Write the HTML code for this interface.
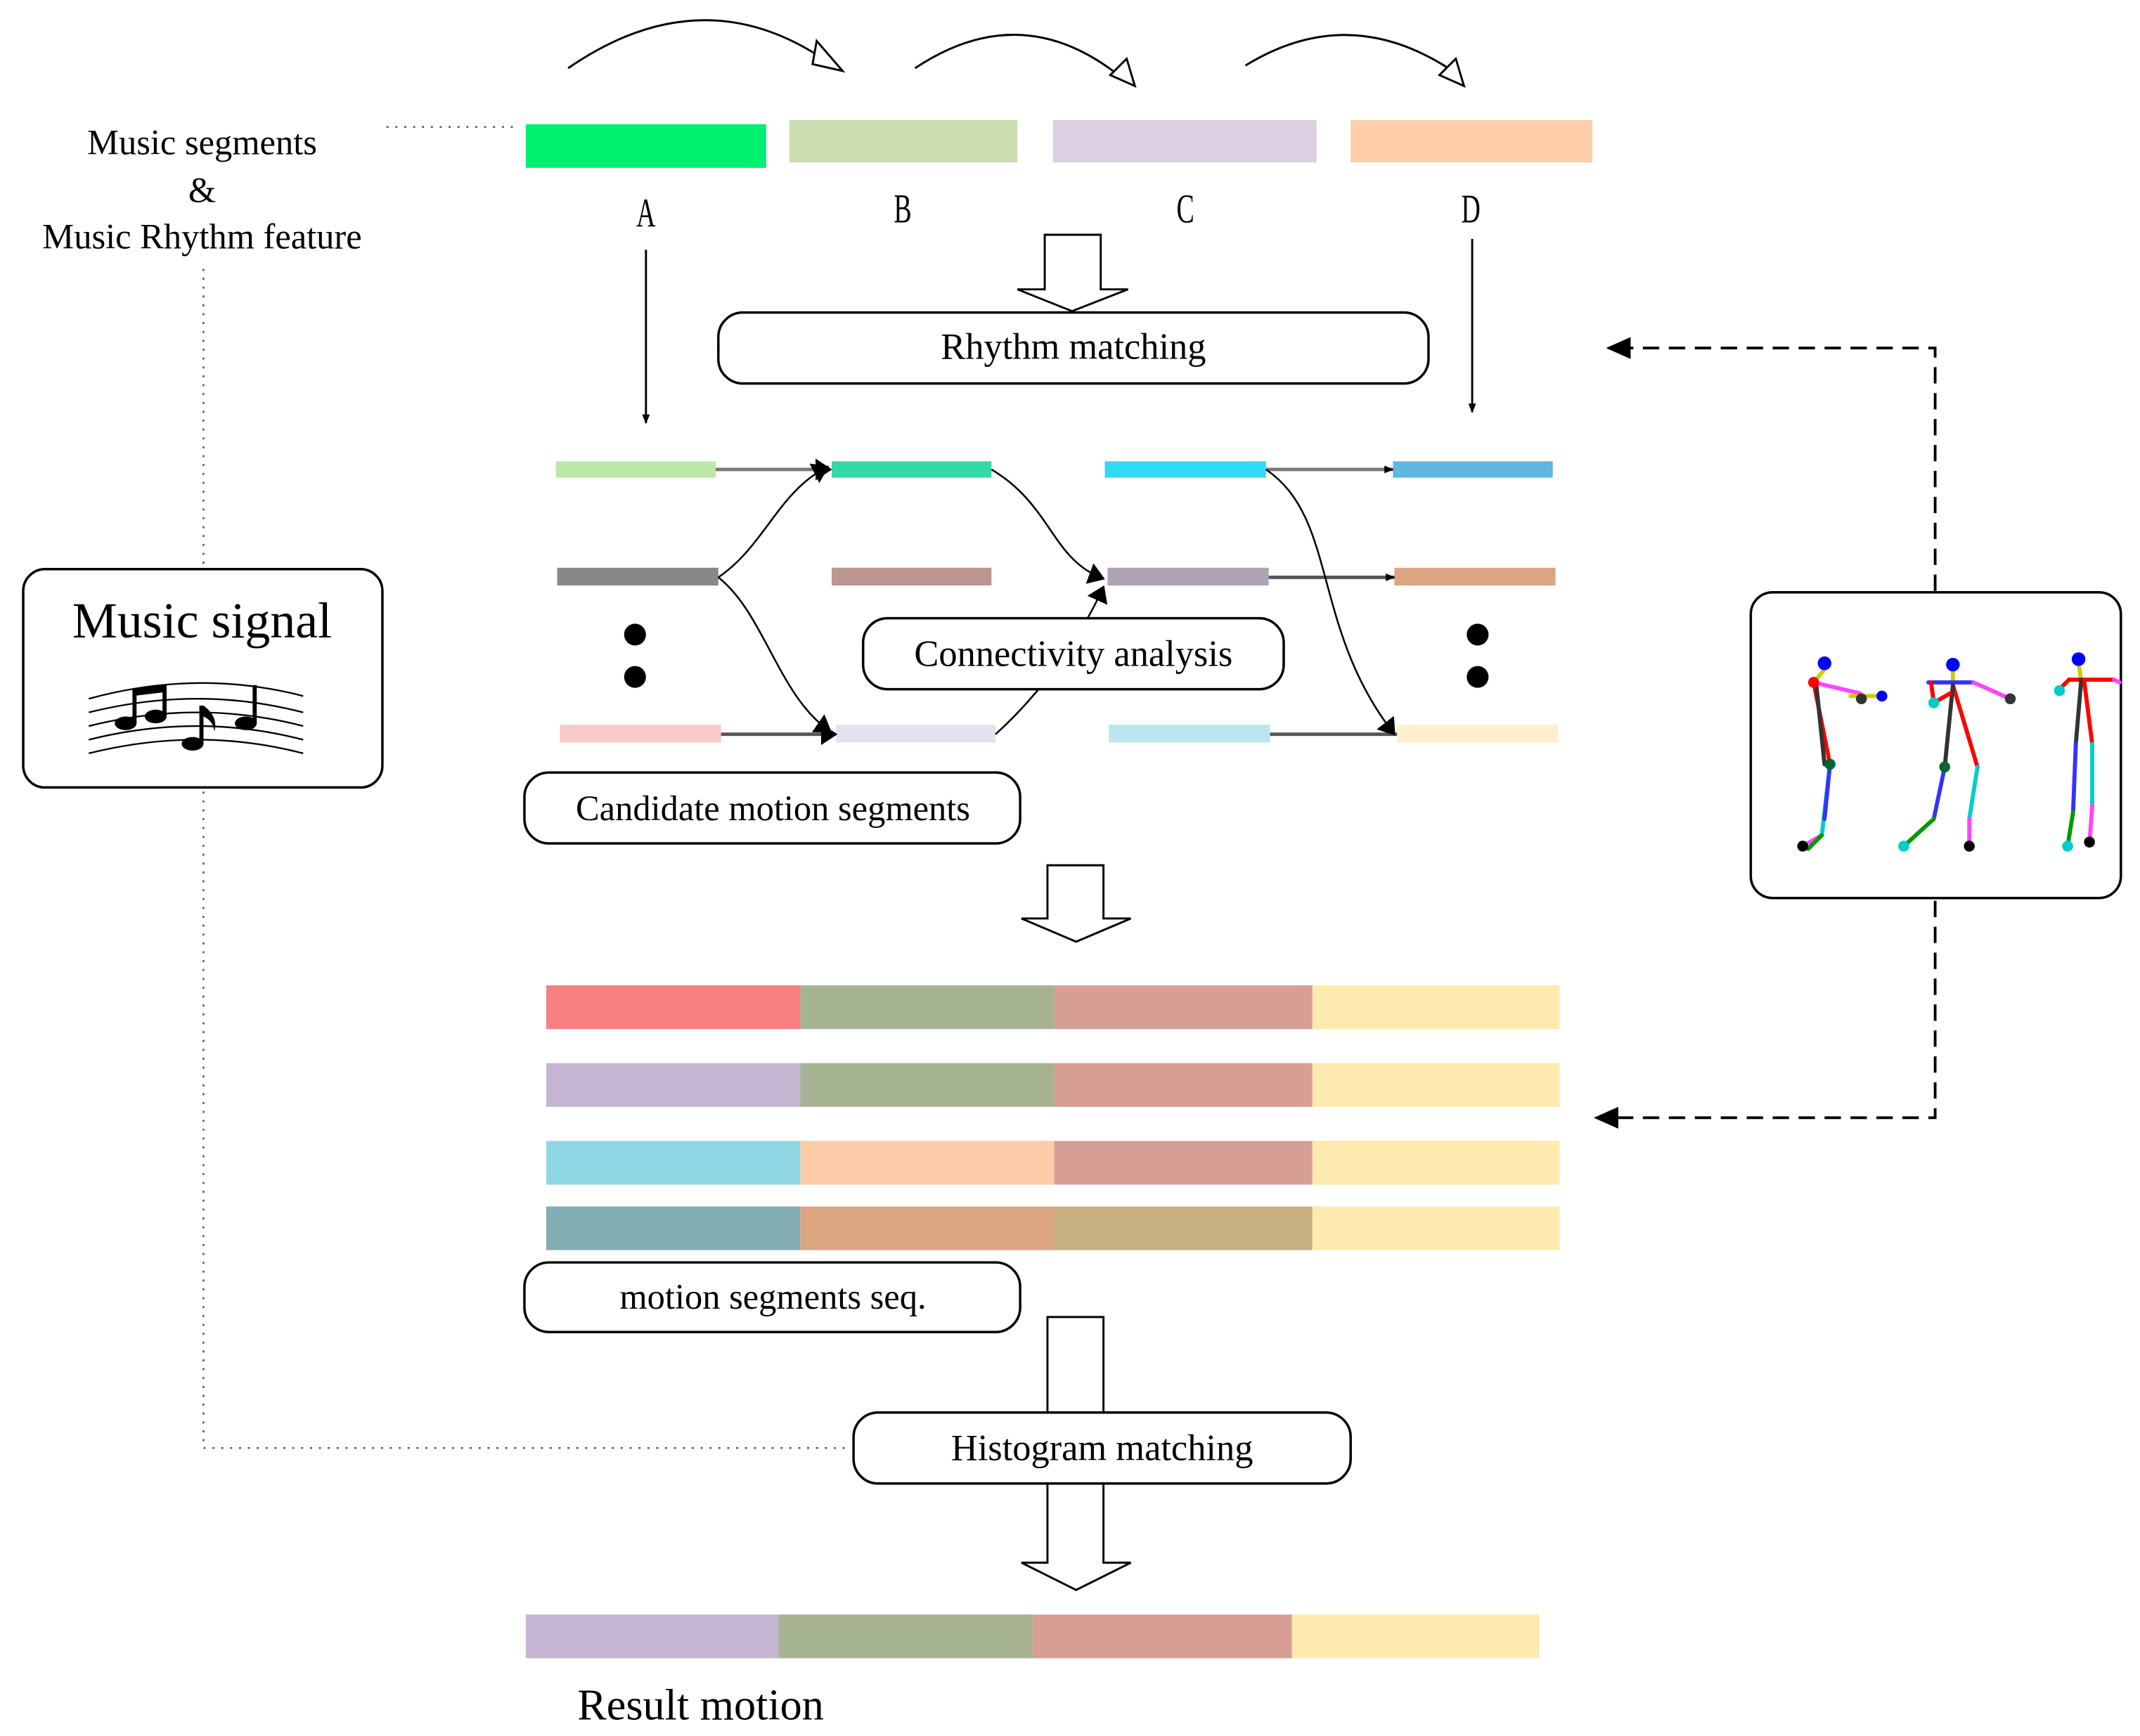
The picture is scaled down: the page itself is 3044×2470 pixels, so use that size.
<!DOCTYPE html>
<html><head><meta charset="utf-8"><style>
html,body{margin:0;padding:0;background:#fff;}
svg{display:block;}
text{font-family:"Liberation Serif",serif;fill:#000;}
</style></head><body>
<svg width="3044" height="2470" viewBox="0 0 1567 1272" preserveAspectRatio="none" xmlns="http://www.w3.org/2000/svg">
<defs>
<marker id="ah" viewBox="0 0 10 10" refX="9" refY="5" markerWidth="7" markerHeight="7" orient="auto-start-reverse" markerUnits="userSpaceOnUse"><path d="M0,1 L10,5 L0,9 z" fill="#000"/></marker>
<marker id="ab" viewBox="0 0 10 10" refX="9" refY="5" markerWidth="12" markerHeight="16" orient="auto" markerUnits="userSpaceOnUse" preserveAspectRatio="none"><path d="M0,0 L10,5 L0,10 z" fill="#000"/></marker>
</defs>

<g fill="none" stroke="#000" stroke-width="1.5">
<path d="M416,50 Q510,-15 598,40"/>
<path d="M670,50 Q745,0 815,52"/>
<path d="M912,48 Q990,0 1068,55"/>
</g>
<g fill="#fff" stroke="#000" stroke-width="1.5">
<path d="M598,30 L617,52 L595,47 z"/>
<path d="M825,43 L831,63 L813,55 z"/>
<path d="M1066,43 L1072,63 L1054,55 z"/>
</g>

<rect x="385" y="91" width="176" height="32" fill="#00f070"/>
<rect x="578" y="88" width="167" height="31" fill="#c9ddb0"/>
<rect x="771" y="88" width="193" height="31" fill="#dbcfe2"/>
<rect x="989" y="88" width="177" height="31" fill="#fdcea8"/>
<g font-size="30" text-anchor="middle">
<text x="473" y="166" transform="translate(473,0) scale(0.65,1) translate(-473,0)">A</text>
<text x="661" y="163" transform="translate(661,0) scale(0.65,1) translate(-661,0)">B</text>
<text x="868" y="163" transform="translate(868,0) scale(0.65,1) translate(-868,0)">C</text>
<text x="1077" y="163" transform="translate(1077,0) scale(0.65,1) translate(-1077,0)">D</text>
</g>

<g font-size="26" text-anchor="middle">
<text x="148" y="113">Music segments</text>
<text x="148" y="148">&amp;</text>
<text x="148" y="182">Music Rhythm feature</text>
</g>

<g fill="none" stroke="#555" stroke-width="1.3" stroke-dasharray="1.5,5">
<path d="M283,93 L380,93"/>
<path d="M149,197 L149,415"/>
<path d="M149,580 L149,1061 L620,1061"/>
</g>

<rect x="17" y="417" width="263" height="160" rx="16" fill="#fff" stroke="#000" stroke-width="1.8"/>
<text x="148" y="467" font-size="37" text-anchor="middle">Music signal</text>
<g fill="none" stroke="#000" stroke-width="1.2">
<path d="M65,512 Q145,490 222,510"/>
<path d="M65,522 Q145,502 222,522"/>
<path d="M65,532 Q145,512 222,532"/>
<path d="M65,542 Q145,522 222,542"/>
<path d="M65,552 Q145,532 222,552"/>
</g>
<g fill="#000">
<ellipse cx="92" cy="530" rx="8" ry="5"/>
<ellipse cx="114" cy="525" rx="8" ry="5"/>
<rect x="97" y="505" width="3" height="25"/>
<rect x="119" y="502" width="3" height="23"/>
<path d="M97,505 L122,502 L122,507 L97,510 z"/>
<ellipse cx="141" cy="545" rx="8" ry="5"/>
<rect x="146" y="517" width="3" height="28"/>
<path d="M149,517 Q160,525 157,536 Q156,528 149,525 z"/>
<ellipse cx="180" cy="530" rx="8" ry="5"/>
<rect x="185" y="502" width="3" height="28"/>
</g>

<path d="M765,172 L806,172 L806,212 L826,212 L785,228 L745,212 L765,212 z" fill="#fff" stroke="#000" stroke-width="1.5"/>
<rect x="526" y="229" width="520" height="52" rx="18" fill="#fff" stroke="#000" stroke-width="1.8"/>
<text x="786" y="263" font-size="27" text-anchor="middle">Rhythm matching</text>

<line x1="473" y1="183" x2="473" y2="310" stroke="#000" stroke-width="1.5" marker-end="url(#ah)"/>
<line x1="1078" y1="175" x2="1078" y2="302" stroke="#000" stroke-width="1.5" marker-end="url(#ah)"/>

<g fill="none" stroke="#000" stroke-width="2" stroke-dasharray="12,7">
<path d="M1417,433 L1417,255 L1190,255"/>
<path d="M1417,660 L1417,819 L1182,819"/>
</g>
<path d="M1176,255 L1194,247 L1194,263 z" fill="#000"/>
<path d="M1167,819 L1185,811 L1185,827 z" fill="#000"/>

<rect x="1282" y="434" width="271" height="224" rx="16" fill="#fff" stroke="#000" stroke-width="1.8"/>
<g stroke-width="3" stroke-linecap="round" fill="none">
<path d="M1338,488 L1328,500" stroke="#cc0"/>
<path d="M1328,500 L1362,508" stroke="#f4f"/>
<path d="M1328,500 L1340,560" stroke="#f00"/>
<path d="M1330,502 L1336,560" stroke="#333"/>
<path d="M1340,560 L1334,612" stroke="#0cc"/>
<path d="M1340,560 L1336,600" stroke="#33f"/>
<path d="M1334,612 L1320,620" stroke="#f4f"/>
<path d="M1334,612 L1324,622" stroke="#090"/>
<path d="M1355,510 L1378,510" stroke="#cc0"/>
<path d="M1430,490 L1430,505" stroke="#cc0"/>
<path d="M1412,500 L1445,500" stroke="#33f"/>
<path d="M1445,500 L1472,512" stroke="#f4f"/>
<path d="M1430,502 L1448,562" stroke="#f00"/>
<path d="M1430,502 L1424,562" stroke="#333"/>
<path d="M1424,562 L1416,600" stroke="#33f"/>
<path d="M1416,600 L1394,620" stroke="#090"/>
<path d="M1448,562 L1442,600" stroke="#0cc"/>
<path d="M1442,600 L1442,620" stroke="#f4f"/>
<path d="M1414,500 L1416,515 L1428,508" stroke="#f00"/>
<path d="M1522,485 L1524,500" stroke="#cc0"/>
<path d="M1508,505 L1515,498 L1548,498" stroke="#f00"/>
<path d="M1548,498 L1552,500" stroke="#f4f"/>
<path d="M1524,498 L1520,545" stroke="#333"/>
<path d="M1526,498 L1532,545" stroke="#f00"/>
<path d="M1520,545 L1518,595" stroke="#33f"/>
<path d="M1518,595 L1514,620" stroke="#090"/>
<path d="M1532,545 L1532,590" stroke="#0cc"/>
<path d="M1532,590 L1530,618" stroke="#f4f"/>
</g>
<g>
<circle cx="1336" cy="486" r="5" fill="#00f"/><circle cx="1328" cy="500" r="4" fill="#f00"/>
<circle cx="1378" cy="510" r="4" fill="#00f"/><circle cx="1363" cy="512" r="4" fill="#333"/>
<circle cx="1340" cy="560" r="4" fill="#063"/><circle cx="1320" cy="620" r="4" fill="#000"/>
<circle cx="1430" cy="487" r="5" fill="#00f"/><circle cx="1472" cy="512" r="4" fill="#333"/>
<circle cx="1424" cy="562" r="4" fill="#063"/><circle cx="1394" cy="620" r="4" fill="#0cc"/>
<circle cx="1442" cy="620" r="4" fill="#000"/><circle cx="1416" cy="515" r="4" fill="#0cc"/>
<circle cx="1522" cy="483" r="5" fill="#00f"/><circle cx="1508" cy="506" r="4" fill="#0cc"/>
<circle cx="1514" cy="620" r="4" fill="#0cc"/><circle cx="1530" cy="617" r="4" fill="#000"/>
</g>

<rect x="407" y="338" width="117" height="12" fill="#bde8a6"/>
<rect x="609" y="338" width="117" height="12" fill="#33d9a6"/>
<rect x="809" y="338" width="118" height="12" fill="#30d9f6"/>
<rect x="1020" y="338" width="117" height="12" fill="#5fb8e0"/>
<rect x="408" y="416" width="118" height="13" fill="#888"/>
<rect x="609" y="416" width="117" height="13" fill="#bd9590"/>
<rect x="811" y="416" width="118" height="13" fill="#afa3b6"/>
<rect x="1021" y="416" width="118" height="13" fill="#dba482"/>
<rect x="410" y="531" width="118" height="13" fill="#f7cac8"/>
<rect x="612" y="531" width="117" height="13" fill="#e7e0ee"/>
<rect x="812" y="531" width="118" height="13" fill="#bbe6ee"/>
<rect x="1023" y="531" width="118" height="13" fill="#fff0cd"/>
<circle cx="465" cy="465" r="8"/><circle cx="465" cy="496" r="8"/>
<circle cx="1082" cy="465" r="8"/><circle cx="1082" cy="496" r="8"/>

<g fill="none" stroke="#000" stroke-width="1.3">
<path d="M524,344 L608,344" stroke="#777" stroke-width="2.5" marker-end="url(#ab)"/>
<path d="M927,344 L1020,344" stroke="#777" stroke-width="2.5" marker-end="url(#ah)"/>
<path d="M929,423 L1021,423" stroke="#555" stroke-width="2.5" marker-end="url(#ah)"/>
<path d="M528,538 L612,538" stroke="#555" stroke-width="2.5" marker-end="url(#ab)"/>
<path d="M930,538 L1023,538" stroke="#555" stroke-width="2.5"/>
<path d="M526,423 C560,400 570,360 606,342" marker-end="url(#ab)"/>
<path d="M526,423 C560,450 570,510 608,536" marker-end="url(#ab)"/>
<path d="M726,344 C770,370 770,410 808,424" marker-end="url(#ab)"/>
<path d="M729,538 C760,510 790,470 808,430" marker-end="url(#ab)"/>
<path d="M927,344 C980,380 960,460 1021,538" marker-end="url(#ab)"/>
</g>

<rect x="632" y="453" width="308" height="52" rx="18" fill="#fff" stroke="#000" stroke-width="1.8"/>
<text x="786" y="488" font-size="27" text-anchor="middle">Connectivity analysis</text>
<rect x="384" y="566" width="363" height="52" rx="18" fill="#fff" stroke="#000" stroke-width="1.8"/>
<text x="566" y="601" font-size="26" text-anchor="middle">Candidate motion segments</text>

<path d="M767,634 L808,634 L808,673 L828,673 L788,690 L748,673 L767,673 z" fill="#fff" stroke="#000" stroke-width="1.5"/>

<g>
<rect x="400" y="722" width="186" height="32" fill="#f98080"/><rect x="586" y="722" width="186" height="32" fill="#a6b393"/><rect x="772" y="722" width="189" height="32" fill="#d79e96"/><rect x="961" y="722" width="181" height="32" fill="#fee9ae"/>
<rect x="400" y="779" width="186" height="32" fill="#c5b4d2"/><rect x="586" y="779" width="186" height="32" fill="#a6b393"/><rect x="772" y="779" width="189" height="32" fill="#d79e96"/><rect x="961" y="779" width="181" height="32" fill="#fee9ae"/>
<rect x="400" y="836" width="186" height="32" fill="#8fd7e4"/><rect x="586" y="836" width="186" height="32" fill="#fccca8"/><rect x="772" y="836" width="189" height="32" fill="#d79e96"/><rect x="961" y="836" width="181" height="32" fill="#fee9ae"/>
<rect x="400" y="884" width="186" height="32" fill="#83adb5"/><rect x="586" y="884" width="186" height="32" fill="#dca582"/><rect x="772" y="884" width="189" height="32" fill="#c6b07f"/><rect x="961" y="884" width="181" height="32" fill="#fee9ae"/>
</g>
<rect x="384" y="925" width="363" height="51" rx="18" fill="#fff" stroke="#000" stroke-width="1.8"/>
<text x="566" y="959" font-size="26" text-anchor="middle">motion segments seq.</text>

<path d="M767,965 L808,965 L808,1145 L828,1145 L788,1165 L748,1145 L767,1145 z" fill="#fff" stroke="#000" stroke-width="1.5"/>
<rect x="625" y="1035" width="364" height="52" rx="18" fill="#fff" stroke="#000" stroke-width="1.8"/>
<text x="807" y="1070" font-size="27" text-anchor="middle">Histogram matching</text>

<rect x="385" y="1183" width="185" height="32" fill="#c5b4d2"/>
<rect x="570" y="1183" width="186" height="32" fill="#a6b393"/>
<rect x="756" y="1183" width="190" height="32" fill="#d79e96"/>
<rect x="946" y="1183" width="181" height="32" fill="#fee9ae"/>
<text x="513" y="1260" font-size="32" text-anchor="middle">Result motion</text>
</svg>
</body></html>
